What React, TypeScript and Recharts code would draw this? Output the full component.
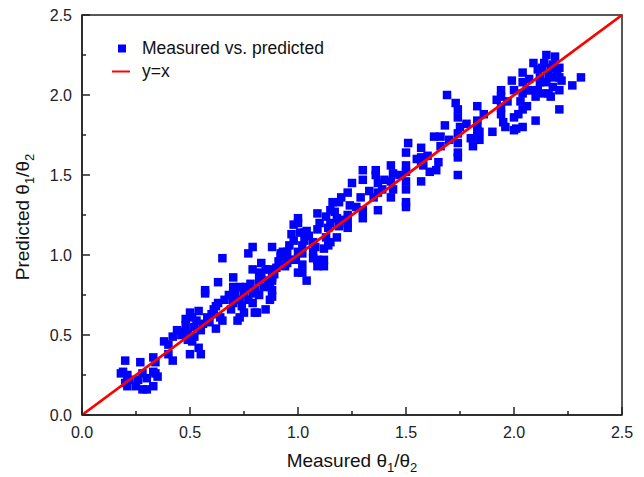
import React from 'react';
import { ScatterChart, Scatter, XAxis, YAxis, Legend, Label, ReferenceArea } from 'recharts';

const FONT = '"Liberation Sans", Arial, Helvetica, sans-serif';

const measured = [
  0.19, 0.2, 0.21, 0.22, 0.18, 0.2, 0.21, 0.25, 0.28, 0.27, 0.26, 0.28, 0.3, 0.3, 0.33, 0.33, 0.35, 0.34, 0.34, 0.33, 0.38, 0.4, 0.4, 0.42, 0.42, 0.44,
  0.46, 0.47, 0.49, 0.49, 0.5, 0.52, 0.51, 0.54, 0.55, 0.5, 0.51, 0.53, 0.54, 0.58, 0.59, 0.57, 0.62, 0.62, 0.63, 0.63, 0.61, 0.64, 0.65, 0.65, 0.57, 0.48, 0.55,
  0.48, 0.52, 0.56, 0.6, 0.66, 0.68, 0.74, 0.78, 0.83, 0.86, 0.9, 0.95,
  0.7, 0.7, 0.71, 0.73, 0.75, 0.73, 0.77, 0.7, 0.69, 0.73, 0.72, 0.75, 0.76, 0.77, 0.79, 0.83, 0.85, 0.82, 0.81, 0.85, 0.79, 0.8, 0.82, 0.84, 0.87, 0.88, 0.88, 0.79, 0.87, 0.88, 0.82, 0.79, 0.8, 0.89, 0.88, 0.88, 0.87, 0.91, 0.92, 0.93, 0.92,
  0.96, 0.98, 0.98, 0.97, 0.96, 0.95, 1.0, 0.94, 1.0, 0.99, 1.02, 0.94, 1.03, 1.03, 1.02, 1.07, 1.07, 1.09, 1.09, 1.13, 1.15, 1.12, 1.12, 1.12, 1.0, 1.0, 1.01, 1.04, 1.02, 1.02, 1.04, 1.07, 1.09, 1.1, 1.09, 1.13, 1.15, 1.14, 1.14, 1.18, 1.19, 1.18,
  1.05, 1.08, 1.17, 1.21, 1.27, 1.33, 1.4, 1.47, 1.55, 1.6, 1.7, 1.78, 1.86, 1.92, 2.07, 2.13,
  1.16, 1.15, 1.19, 1.2, 1.23, 1.25, 1.23, 1.23, 1.23, 1.24, 1.29, 1.3, 1.3, 1.3, 1.3, 1.36, 1.36, 1.37, 1.37, 1.37, 1.35, 1.39, 1.43, 1.44, 1.43, 1.44, 1.43,
  1.5, 1.5, 1.5, 1.5, 1.5, 1.5, 1.51, 1.5, 1.57, 1.57, 1.57, 1.58, 1.57, 1.61, 1.64, 1.65, 1.63, 1.66, 1.66, 1.68, 1.69,
  1.73, 1.74, 1.74, 1.74, 1.74, 1.74, 1.74, 1.74, 1.75, 1.8, 1.81, 1.83, 1.83, 1.84, 1.83, 1.83, 1.83, 1.84, 1.9,
  1.94, 1.94, 1.94, 1.94, 1.95, 1.96, 1.97, 1.99, 2.0, 2.0, 2.0, 2.01, 2.02, 2.03, 2.04, 2.04, 2.04, 2.04, 2.04, 2.06, 2.06, 2.08, 2.09, 2.1, 2.1, 2.11, 2.11, 2.12, 2.12, 2.13, 2.14, 2.15, 2.15, 2.16, 2.16, 2.17, 2.17, 2.18, 2.18, 2.18, 2.19, 2.2, 2.21, 2.21, 2.21, 2.21, 2.22, 2.27, 2.31,
];

const predicted = [
  0.27, 0.34, 0.25, 0.22, 0.26, 0.2, 0.18, 0.18, 0.16, 0.33, 0.22, 0.26, 0.23, 0.16, 0.18, 0.27, 0.24, 0.26, 0.33, 0.36, 0.46, 0.44, 0.38, 0.34, 0.49, 0.53,
  0.5, 0.52, 0.51, 0.47, 0.38, 0.49, 0.46, 0.42, 0.38, 0.64, 0.61, 0.59, 0.65, 0.61, 0.58, 0.76, 0.68, 0.54, 0.83, 0.7, 0.66, 0.61, 0.59, 0.98, 0.78, 0.56, 0.53,
  0.6, 0.55, 0.57, 0.63, 0.72, 0.75, 0.68, 0.82, 0.86, 0.84, 0.92, 1.02,
  0.86, 0.8, 0.75, 0.8, 0.77, 0.72, 0.72, 0.7, 0.66, 0.61, 0.59, 0.64, 0.8, 1.01, 1.05, 0.95, 0.91, 0.89, 0.64, 0.66, 0.7, 0.78, 0.75, 0.8, 0.8, 0.74, 1.05, 0.91, 0.91, 0.86, 0.84, 0.76, 0.64, 0.88, 0.84, 0.78, 0.72, 0.96, 1.01, 1.02, 0.99,
  1.06, 1.09, 1.19, 1.13, 0.97, 0.95, 0.89, 0.99, 1.02, 0.97, 0.94, 0.93, 1.14, 1.09, 1.06, 1.08, 1.02, 0.97, 0.93, 1.11, 1.08, 1.04, 0.97, 0.93, 1.23, 1.2, 1.14, 1.15, 1.01, 0.89, 0.84, 0.98, 1.26, 1.2, 1.16, 1.24, 1.2, 1.17, 1.06, 1.23, 1.18, 1.11,
  1.12, 1.05, 1.27, 1.22, 1.3, 1.4, 1.47, 1.5, 1.6, 1.62, 1.72, 1.82, 1.88, 1.97, 2.1, 2.17,
  1.33, 1.28, 1.33, 1.36, 1.39, 1.45, 1.2, 1.17, 1.25, 1.31, 1.36, 1.28, 1.23, 1.53, 1.47, 1.53, 1.5, 1.45, 1.39, 1.28, 1.36, 1.41, 1.56, 1.51, 1.46, 1.41, 1.36,
  1.56, 1.52, 1.46, 1.41, 1.33, 1.3, 1.7, 1.64, 1.67, 1.61, 1.58, 1.56, 1.46, 1.52, 1.53, 1.58, 1.74, 1.74, 1.68, 1.81, 2.0,
  1.95, 1.91, 1.86, 1.76, 1.7, 1.64, 1.61, 1.5, 1.8, 1.73, 1.68, 1.74, 1.78, 1.72, 1.93, 1.84, 1.81, 1.77, 1.77,
  2.03, 1.99, 1.92, 1.88, 1.83, 1.8, 1.96, 2.09, 2.03, 1.86, 1.78, 1.79, 1.88, 1.96, 2.01, 2.14, 1.8, 2.08, 1.91, 2.03, 1.93, 2.03, 2.2, 1.99, 1.84, 2.03, 2.16, 2.11, 2.08, 2.01, 2.2, 2.25, 2.08, 2.13, 2.01, 2.17, 1.99, 2.19, 2.11, 2.05, 2.24, 2.14, 2.17, 2.11, 2.03, 1.91, 2.09, 2.06, 2.11,
];

const identityX = [0, 2.5];
const identityY = [0, 2.5];

const axisTicks = [0, 0.25, 0.5, 0.75, 1.0, 1.25, 1.5, 1.75, 2.0, 2.25, 2.5];
const axisDomain = [0, 2.5];

const seriesNames = ['Measured vs. predicted', 'y=x'];

const points = measured.map((m, i) => ({ x: m, y: predicted[i] }));
const identityLine = identityX.map((v, i) => ({ x: v, y: identityY[i] }));

const isMajor = (v: number) => Math.abs(v * 2 - Math.round(v * 2)) < 1e-6;

const XTick = (props: any) => {
  const { x, y, payload } = props;
  const v = payload.value as number;
  const major = isMajor(v);
  return (
    <g>
      <line x1={x} x2={x} y1={y} y2={y - (major ? 8 : 4)} stroke="#222" strokeWidth={1.5} />
      {major && (
        <text x={x} y={y + 23} textAnchor="middle" fontSize={16} fill="#222" fontFamily={FONT}>
          {v.toFixed(1)}
        </text>
      )}
    </g>
  );
};

const YTick = (props: any) => {
  const { x, y, payload } = props;
  const v = payload.value as number;
  const major = isMajor(v);
  return (
    <g>
      <line x1={x + 10} x2={x + 10 + (major ? 8 : 4)} y1={y} y2={y} stroke="#222" strokeWidth={1.5} />
      {major && (
        <text x={x} y={y} dy="0.36em" textAnchor="end" fontSize={16} fill="#222" fontFamily={FONT}>
          {v.toFixed(1)}
        </text>
      )}
    </g>
  );
};

const XTitle = (props: any) => {
  const vb = props.viewBox || {};
  const cx = vb.x + vb.width / 2;
  const y = vb.y + 52;
  return (
    <text x={cx} y={y} textAnchor="middle" fontSize={19} fill="#111" fontFamily={FONT}>
      <tspan>Measured θ</tspan>
      <tspan fontSize={13} dy={5}>1</tspan>
      <tspan dy={-5}>/θ</tspan>
      <tspan fontSize={13} dy={5}>2</tspan>
    </text>
  );
};

const YTitle = (props: any) => {
  const vb = props.viewBox || {};
  const x = vb.x + 29;
  const cy = vb.y + vb.height / 2 + 2;
  return (
    <text
      x={x}
      y={cy}
      textAnchor="middle"
      fontSize={19}
      fill="#111"
      fontFamily={FONT}
      transform={`rotate(-90, ${x}, ${cy})`}
    >
      <tspan>Predicted θ</tspan>
      <tspan fontSize={13} dy={5}>1</tspan>
      <tspan dy={-5}>/θ</tspan>
      <tspan fontSize={13} dy={5}>2</tspan>
    </text>
  );
};

const renderLegend = (props: any) => {
  const payload = props.payload || [];
  return (
    <div style={{ fontFamily: FONT, fontSize: 17.5, color: '#111' }}>
      {payload.map((entry: any, i: number) => (
        <div key={i} style={{ display: 'flex', alignItems: 'center', height: 23, whiteSpace: 'nowrap' }}>
          <svg width={32} height={23} style={{ display: 'block' }}>
            {entry.type === 'plainline' ? (
              <line x1={2} x2={20} y1={11.5} y2={11.5} stroke={entry.color} strokeWidth={2} />
            ) : (
              <rect x={8} y={7.5} width={8} height={8} fill={entry.color} />
            )}
          </svg>
          <span>{entry.value}</span>
        </div>
      ))}
    </div>
  );
};

const Square = (props: any) => {
  const { cx, cy } = props;
  if (cx == null || cy == null) return <g />;
  return <rect x={cx - 4.25} y={cy - 4.25} width={8.5} height={8.5} fill="#0000ff" />;
};

const NoShape = () => <g />;

export default function App() {
  return (
    <div style={{ position: 'absolute', left: 0, top: 0, width: 644, height: 477, background: '#fff' }}>
      <ScatterChart width={644} height={477} margin={{ top: 15, right: 22, bottom: 0, left: 0 }}>
        <ReferenceArea
          x1={0}
          x2={2.5}
          y1={0}
          y2={2.5}
          fill="none"
          fillOpacity={0}
          stroke="#222"
          strokeWidth={1.5}
          ifOverflow="visible"
        />
        <XAxis
          type="number"
          dataKey="x"
          domain={axisDomain}
          ticks={axisTicks}
          interval={0}
          height={62}
          tickSize={0}
          tickMargin={0}
          tickLine={false}
          axisLine={{ stroke: '#222', strokeWidth: 1.5 }}
          tick={<XTick />}
        >
          <Label content={<XTitle />} />
        </XAxis>
        <YAxis
          type="number"
          dataKey="y"
          domain={axisDomain}
          ticks={axisTicks}
          interval={0}
          width={82}
          tickSize={0}
          tickMargin={10}
          tickLine={false}
          axisLine={{ stroke: '#222', strokeWidth: 1.5 }}
          tick={<YTick />}
        >
          <Label content={<YTitle />} />
        </YAxis>
        <Legend
          layout="vertical"
          align="center"
          verticalAlign="middle"
          content={renderLegend}
          wrapperStyle={{ left: 110, top: 37, width: 'auto', height: 'auto' }}
        />
        <Scatter
          name={seriesNames[0]}
          data={points}
          fill="#0000ff"
          legendType="square"
          shape={<Square />}
          isAnimationActive={false}
        />
        <Scatter
          name={seriesNames[1]}
          data={identityLine}
          fill="#ff0000"
          legendType="plainline"
          line={{ stroke: '#ff0000', strokeWidth: 2.8 }}
          shape={<NoShape />}
          isAnimationActive={false}
        />
      </ScatterChart>
    </div>
  );
}
